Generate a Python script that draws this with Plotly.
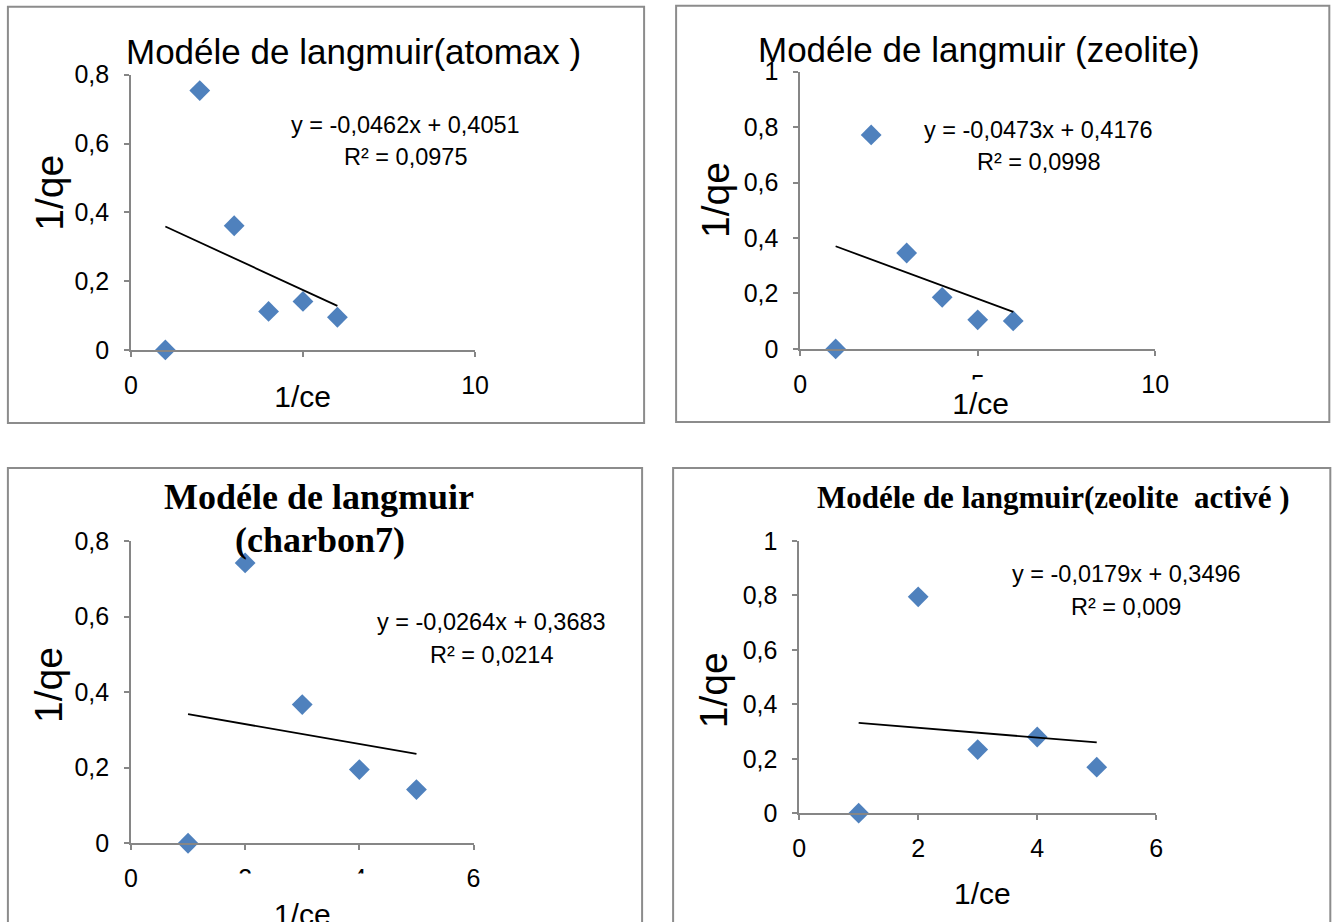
import plotly.graph_objects as go

W, H = 1338, 922

# 1/ce (x) and 1/qe (y) for each adsorbent
x_atomax = [1, 2, 3, 4, 5, 6]
y_atomax = [0, 0.754, 0.361, 0.112, 0.141, 0.095]
x_zeolite = [1, 2, 3, 4, 5, 6]
y_zeolite = [0, 0.772, 0.346, 0.186, 0.105, 0.101]
x_charbon7 = [1, 2, 3, 4, 5]
y_charbon7 = [0, 0.742, 0.367, 0.195, 0.142]
x_zeolite_act = [1, 2, 3, 4, 5]
y_zeolite_act = [0, 0.795, 0.234, 0.280, 0.169]

# linear trendlines: slope, intercept, R²
fit_atomax = (-0.0462, 0.4051, 0.0975)
fit_zeolite = (-0.0473, 0.4176, 0.0998)
fit_charbon7 = (-0.0264, 0.3683, 0.0214)
fit_zeolite_act = (-0.0179, 0.3496, 0.009)

titles = [
    "Modéle de langmuir(atomax )",
    "Modéle de langmuir (zeolite)",
    ["Modéle de langmuir", "(charbon7)"],
    "Modéle de langmuir(zeolite  activé )",
]
x_title = "1/ce"
y_title = "1/qe"

x_ticks_10 = [0, 5, 10]
x_ticks_6 = [0, 2, 4, 6]

SANS = "Liberation Sans, Arial, sans-serif"
SERIF = "Liberation Serif, Times New Roman, serif"
BLUE = "#4F81BD"
AXIS_GREY = "#868686"
BORDER_GREY = "#8c8c8c"

# page placement of the plotting surface (scale and offset in screen pixels)
SX, OX = 0.984, 7.1
SY, OY = 0.969, 14.3


def fx(px):
    """screen x pixel -> paper fraction"""
    return ((px - OX) / SX) / W


def fy(py):
    """screen y pixel (from top) -> paper fraction"""
    return 1 - ((py - OY) / SY) / H


def comma(v, spec):
    return format(v, spec).replace(".", ",")


panels = [
    dict(x=x_atomax, y=y_atomax, fit=fit_atomax, xpx=(131, 475), ypx=(75, 350),
         xmax=10, xticks=x_ticks_10, ymax=0.8, box=(8, 7, 644, 423), closed=True,
         eq=(405, 125, 157), ylab=(50, 193)),
    dict(x=x_zeolite, y=y_zeolite, fit=fit_zeolite, xpx=(800, 1155), ypx=(72, 349),
         xmax=10, xticks=x_ticks_10, ymax=1.0, box=(676, 6, 1329, 422), closed=True,
         eq=(1038, 130, 162), ylab=(716, 200)),
    dict(x=x_charbon7, y=y_charbon7, fit=fit_charbon7, xpx=(131, 473.5), ypx=(541, 843),
         xmax=6, xticks=x_ticks_6, ymax=0.8, box=(8, 468, 642, 945), closed=False,
         eq=(491, 622, 655), ylab=(48, 685)),
    dict(x=x_zeolite_act, y=y_zeolite_act, fit=fit_zeolite_act, xpx=(799, 1156), ypx=(541, 813),
         xmax=6, xticks=x_ticks_6, ymax=1.0, box=(673, 468, 1330, 945), closed=False,
         eq=(1126, 574, 607), ylab=(713, 690)),
]

fig = go.Figure()
annotations = []
shapes = []

for i, p in enumerate(panels, start=1):
    xa = "x" if i == 1 else f"x{i}"
    ya = "y" if i == 1 else f"y{i}"
    xkey = "xaxis" if i == 1 else f"xaxis{i}"
    ykey = "yaxis" if i == 1 else f"yaxis{i}"

    slope, intercept, r2 = p["fit"]
    x0, x1 = min(p["x"]), max(p["x"])

    fig.add_trace(go.Scatter(
        x=p["x"], y=p["y"], mode="markers", xaxis=xa, yaxis=ya,
        marker=dict(symbol="diamond", size=16, color=BLUE, line=dict(width=0)),
        cliponaxis=False, showlegend=False, hoverinfo="skip"))
    fig.add_trace(go.Scatter(
        x=[x0, x1], y=[slope * x0 + intercept, slope * x1 + intercept],
        mode="lines", xaxis=xa, yaxis=ya, line=dict(color="black", width=1.8),
        cliponaxis=False, showlegend=False, hoverinfo="skip"))

    common = dict(showline=True, linecolor=AXIS_GREY, linewidth=1.5, ticks="outside",
                  ticklen=5, tickwidth=1.5, tickcolor=AXIS_GREY, showgrid=False,
                  zeroline=False, tickfont=dict(family=SANS, size=25, color="black"),
                  fixedrange=True)
    fig.layout[xkey] = dict(common, domain=[fx(p["xpx"][0]), fx(p["xpx"][1])],
                            range=[0, p["xmax"]], tickmode="array", tickvals=p["xticks"],
                            ticktext=[str(t) for t in p["xticks"]], anchor=ya,
                            ticklabelstandoff=7)
    fig.layout[ykey] = dict(common, domain=[fy(p["ypx"][1]), fy(p["ypx"][0])],
                            range=[0, p["ymax"]], tick0=0, dtick=0.2, anchor=xa,
                            ticklabelstandoff=10)

    # chart frame (the lower charts run off the bottom edge, so no bottom side)
    bx0, by0, bx1, by1 = p["box"]
    if p["closed"]:
        shapes.append(dict(type="rect", xref="paper", yref="paper",
                           x0=fx(bx0), x1=fx(bx1), y0=fy(by1), y1=fy(by0),
                           line=dict(color=BORDER_GREY, width=2),
                           fillcolor="rgba(0,0,0,0)", layer="below"))
    else:
        path = (f"M {fx(bx0)},{fy(by1)} L {fx(bx0)},{fy(by0)} "
                f"L {fx(bx1)},{fy(by0)} L {fx(bx1)},{fy(by1)}")
        shapes.append(dict(type="path", xref="paper", yref="paper", path=path,
                           line=dict(color=BORDER_GREY, width=2), layer="below"))

    # trendline equation
    ex, ey1, ey2 = p["eq"]
    eq_text = f"y = {comma(slope, '.4f')}x + {comma(intercept, '.4f')}"
    r2_text = f"R² = {comma(r2, 'g')}"
    for txt, ey in ((eq_text, ey1), (r2_text, ey2)):
        annotations.append(dict(text=txt, x=fx(ex), y=fy(ey), xref="paper", yref="paper",
                                showarrow=False, xanchor="center", yanchor="middle",
                                font=dict(family=SANS, size=23.5, color="black")))

    # y-axis title
    lx, ly = p["ylab"]
    annotations.append(dict(text=y_title, x=fx(lx), y=fy(ly), xref="paper", yref="paper",
                            showarrow=False, textangle=-90, xanchor="center", yanchor="middle",
                            font=dict(family=SANS, size=39, color="black")))

# chart titles
annotations.append(dict(text=titles[0], x=fx(353), y=fy(52), xref="paper", yref="paper",
                        showarrow=False, xanchor="center", yanchor="middle",
                        font=dict(family=SANS, size=35, color="black")))
annotations.append(dict(text=titles[1], x=fx(979), y=fy(50), xref="paper", yref="paper",
                        showarrow=False, xanchor="center", yanchor="middle",
                        font=dict(family=SANS, size=35, color="black")))
annotations.append(dict(text=titles[2][0], x=fx(319), y=fy(497), xref="paper", yref="paper",
                        showarrow=False, xanchor="center", yanchor="middle",
                        font=dict(family=SERIF, size=36, color="black", weight="bold")))
annotations.append(dict(text=titles[2][1], x=fx(320), y=fy(540), xref="paper", yref="paper",
                        showarrow=False, xanchor="center", yanchor="middle",
                        font=dict(family=SERIF, size=36, color="black", weight="bold")))
annotations.append(dict(text=titles[3], x=fx(1053), y=fy(497), xref="paper", yref="paper",
                        showarrow=False, xanchor="center", yanchor="middle",
                        font=dict(family=SERIF, size=31, color="black", weight="bold")))

# x-axis titles sit in white boxes that overlap the tick labels beneath them
xt_font = dict(family=SANS, size=30, color="black")


def cover_title(cx, top, bottom, width, valign):
    return dict(text=x_title, x=fx(cx), y=fy(top), xref="paper", yref="paper",
                showarrow=False, xanchor="center", yanchor="top",
                width=width / SX, height=(bottom - top) / SY, valign=valign,
                bgcolor="white", borderpad=0, font=xt_font)


annotations.append(cover_title(303, 373, 417, 76, "middle"))
annotations.append(cover_title(980, 379, 418, 76, "bottom"))
annotations.append(cover_title(302, 873, 951, 150, "middle"))
annotations.append(dict(text=x_title, x=fx(982), y=fy(893), xref="paper", yref="paper",
                        showarrow=False, xanchor="center", yanchor="middle", font=xt_font))

fig.update_layout(
    width=W, height=H, margin=dict(l=0, r=0, t=0, b=0),
    paper_bgcolor="white", plot_bgcolor="white",
    separators=", ", annotations=annotations, shapes=shapes, showlegend=False,
)

fig.write_html("out.html", config={"displayModeBar": False})
